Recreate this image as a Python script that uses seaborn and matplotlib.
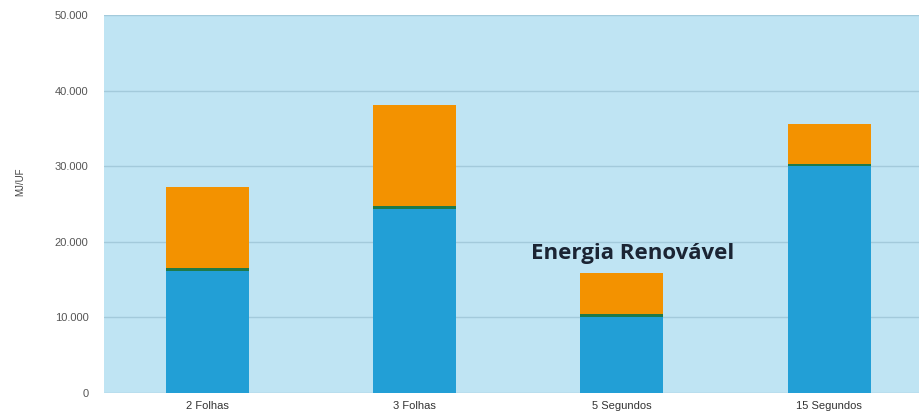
import matplotlib
matplotlib.use("Agg")
import matplotlib.pyplot as plt
import pandas as pd
import seaborn as sns
from matplotlib.ticker import FuncFormatter

# %%
categorias = ["2 Folhas", "3 Folhas", "5 Segundos", "15 Segundos"]
energia_base = [16200, 24400, 10100, 30000]
energia_intermedia = [300, 300, 300, 300]
energia_topo = [10800, 13400, 5500, 5300]

df = pd.DataFrame(
    {
        "cenario": categorias,
        "base": energia_base,
        "intermedia": energia_intermedia,
        "topo": energia_topo,
    }
)
df["ate_intermedia"] = df["base"] + df["intermedia"]
df["total"] = df["ate_intermedia"] + df["topo"]

# %%
sns.set_theme(style="white")
plt.rcParams["font.family"] = ["Liberation Sans", "DejaVu Sans"]

fig = plt.figure(figsize=(9.19, 4.19), dpi=100)
ax = fig.add_axes([0.113, 0.062, 0.902, 0.902])
ax.set_facecolor("#bfe4f3")

sns.barplot(data=df, x="cenario", y="total", color="#f39200", width=0.4,
            saturation=1, linewidth=0, ax=ax, zorder=3)
sns.barplot(data=df, x="cenario", y="ate_intermedia", color="#1f7a4a", width=0.4,
            saturation=1, linewidth=0, ax=ax, zorder=3)
sns.barplot(data=df, x="cenario", y="base", color="#229fd6", width=0.4,
            saturation=1, linewidth=0, ax=ax, zorder=3)

ax.set_ylim(0, 50000)
ax.set_xlim(-0.5, 3.5)
ax.set_yticks([0, 10000, 20000, 30000, 40000, 50000])
ax.yaxis.set_major_formatter(FuncFormatter(lambda v, p: f"{int(v):,}".replace(",", ".")))
ax.grid(axis="y", color="#a3cadb", linewidth=1.0, zorder=0)
ax.set_axisbelow(True)
for s in ax.spines.values():
    s.set_visible(False)

ax.tick_params(axis="y", length=0, pad=11, labelsize=8, labelcolor="#555555")
ax.tick_params(axis="x", length=0, pad=6, labelsize=8, labelcolor="#333333")
ax.set_xlabel("")
ax.set_ylabel("MJ/UF", fontsize=7, color="#444444")
ax.yaxis.set_label_coords(-0.095, 0.56)

ax.text(2.05, 18500, "Energia Renovável", ha="center", va="center",
        fontsize=16, fontweight="bold", color="#1b2433",
        family=["Open Sans", "DejaVu Sans"], zorder=4)

fig.savefig("out.png", dpi=100)
